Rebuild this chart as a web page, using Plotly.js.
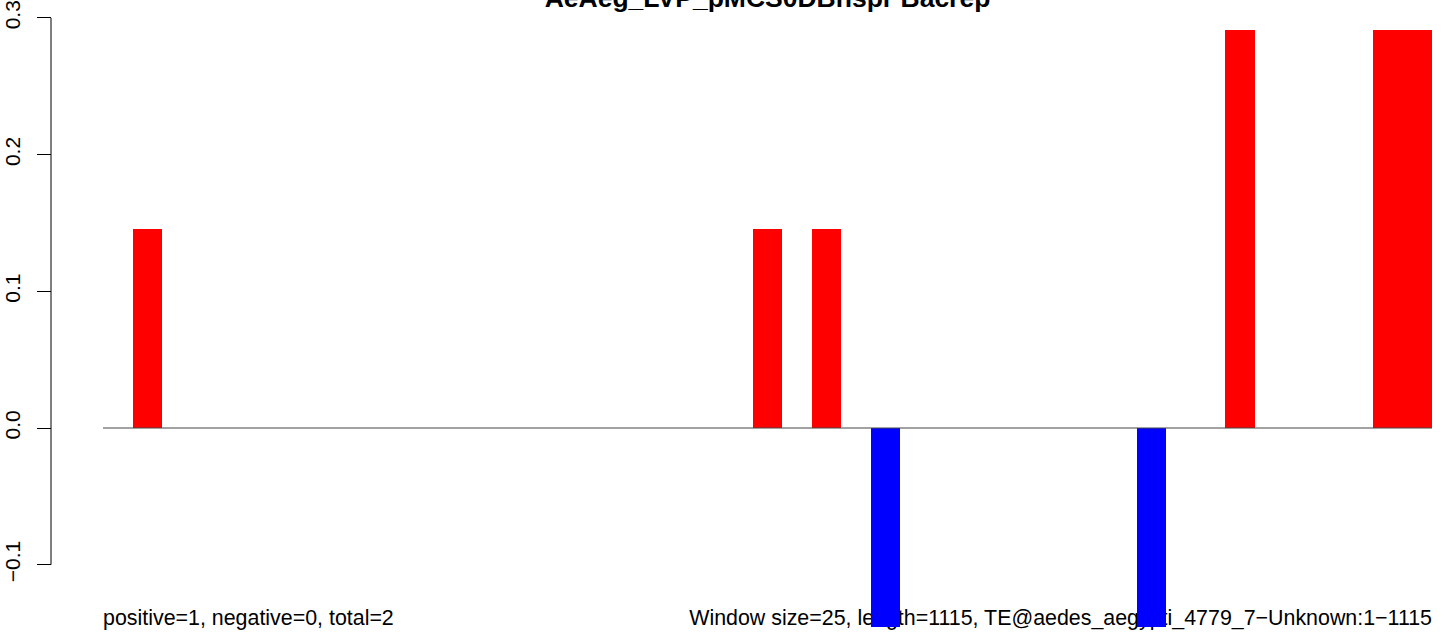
<!DOCTYPE html>
<html><head><meta charset="utf-8">
<script src="https://cdn.plot.ly/plotly-3.0.1.min.js"></script>
<style>html,body{margin:0;padding:0;background:#fff}</style>
</head><body>
<div id="chart" style="width:1444px;height:634px"></div>
<script>
// window index (45 windows of 25 bp over length 1115)
const windowIndex = [0,1,2,3,4,5,6,7,8,9,10,11,12,13,14,15,16,17,18,19,20,21,22,23,24,25,26,27,28,29,30,31,32,33,34,35,36,37,38,39,40,41,42,43,44];
const windowValues = [0,0.1456,0,0,0,0,0,0,0,0,0,0,0,0,0,0,0,0,0,0,0,0,0.1456,0,0.1456,0,-0.1456,0,0,0,0,0,0,0,0,-0.1456,0,0,0.2912,0,0,0,0,0.2912,0.2912];
const yTickVals = [-0.1,0,0.1,0.2,0.3];
const yTickText = ['\u22120.1','0.0','0.1','0.2','0.3'];
const titleText = 'AeAeg_LVP_pMCS0DBhspr Bacrep';
const leftNote = 'positive=1, negative=0, total=2';
const rightNote = 'Window size=25, length=1115, TE@aedes_aegypti_4779_7\u2212Unknown:1\u22121115';

const first = windowIndex[0] - 0.5, last = windowIndex[windowIndex.length-1] + 0.5;
const barColors = windowValues.map(v => v < 0 ? '#0000FF' : '#FF0000');
const FONT = 'Liberation Sans, Arial, Helvetica, sans-serif';

const plotL = 30, plotR = 1432, barL = 103;
const slot = (plotR - barL) / windowIndex.length;
const xMin = last - (plotR - plotL) / slot;
const axisPos = (51 - plotL) / (plotR - plotL);
const yZeroPx = 428, pxPerUnit = 136.7 / 0.1, H = 634;
const yRange = [-(H - yZeroPx) / pxPerUnit, yZeroPx / pxPerUnit];
const noteY = -(620 - yZeroPx) / pxPerUnit;

const traces = [
  {type:'scatter', mode:'text', xaxis:'x', yaxis:'y', x:[first, last], y:[noteY, noteY],
   text:[leftNote, rightNote], textposition:['middle right','middle left'],
   textfont:{family:FONT, size:21.4, color:'#000'}, cliponaxis:false, hoverinfo:'skip', showlegend:false},
  {type:'bar', xaxis:'x2', yaxis:'y', x:windowIndex, y:windowValues, width:1,
   marker:{color:barColors, line:{width:0}}, showlegend:false},
  {type:'scatter', mode:'lines', xaxis:'x2', yaxis:'y', x:[first, last], y:[0, 0],
   line:{color:'#444', width:1}, hoverinfo:'skip', showlegend:false}
];

const layout = {
  width:1444, height:634,
  margin:{l:plotL, r:1444-plotR, t:0, b:0, pad:0},
  paper_bgcolor:'#fff', plot_bgcolor:'rgba(0,0,0,0)',
  bargap:0, showlegend:false,
  title:{text:titleText, font:{family:FONT, size:26.5, color:'#000', weight:'bold'},
         xref:'container', x:((barL+plotR)/2)/1444, xanchor:'center',
         yref:'container', y:1-7/634, yanchor:'bottom'},
  xaxis:{range:[xMin, last], visible:false, fixedrange:true},
  xaxis2:{range:[xMin, last], visible:false, overlaying:'x', matches:'x'},
  yaxis:{range:yRange, anchor:'free', position:axisPos, tickvals:yTickVals, ticktext:yTickText,
         tickangle:-90, ticks:'outside', ticklen:14, tickwidth:1, tickcolor:'#000',
         ticklabelstandoff:9,
         showgrid:false, zeroline:false, showline:false,
         tickfont:{family:FONT, size:21, color:'#000'}},
  shapes:[{type:'line', xref:'paper', yref:'y', x0:axisPos, x1:axisPos, y0:yTickVals[0], y1:yTickVals[yTickVals.length-1],
           line:{color:'#000', width:1}}]
};
Plotly.newPlot('chart', traces, layout, {staticPlot:true});
</script>
</body></html>
